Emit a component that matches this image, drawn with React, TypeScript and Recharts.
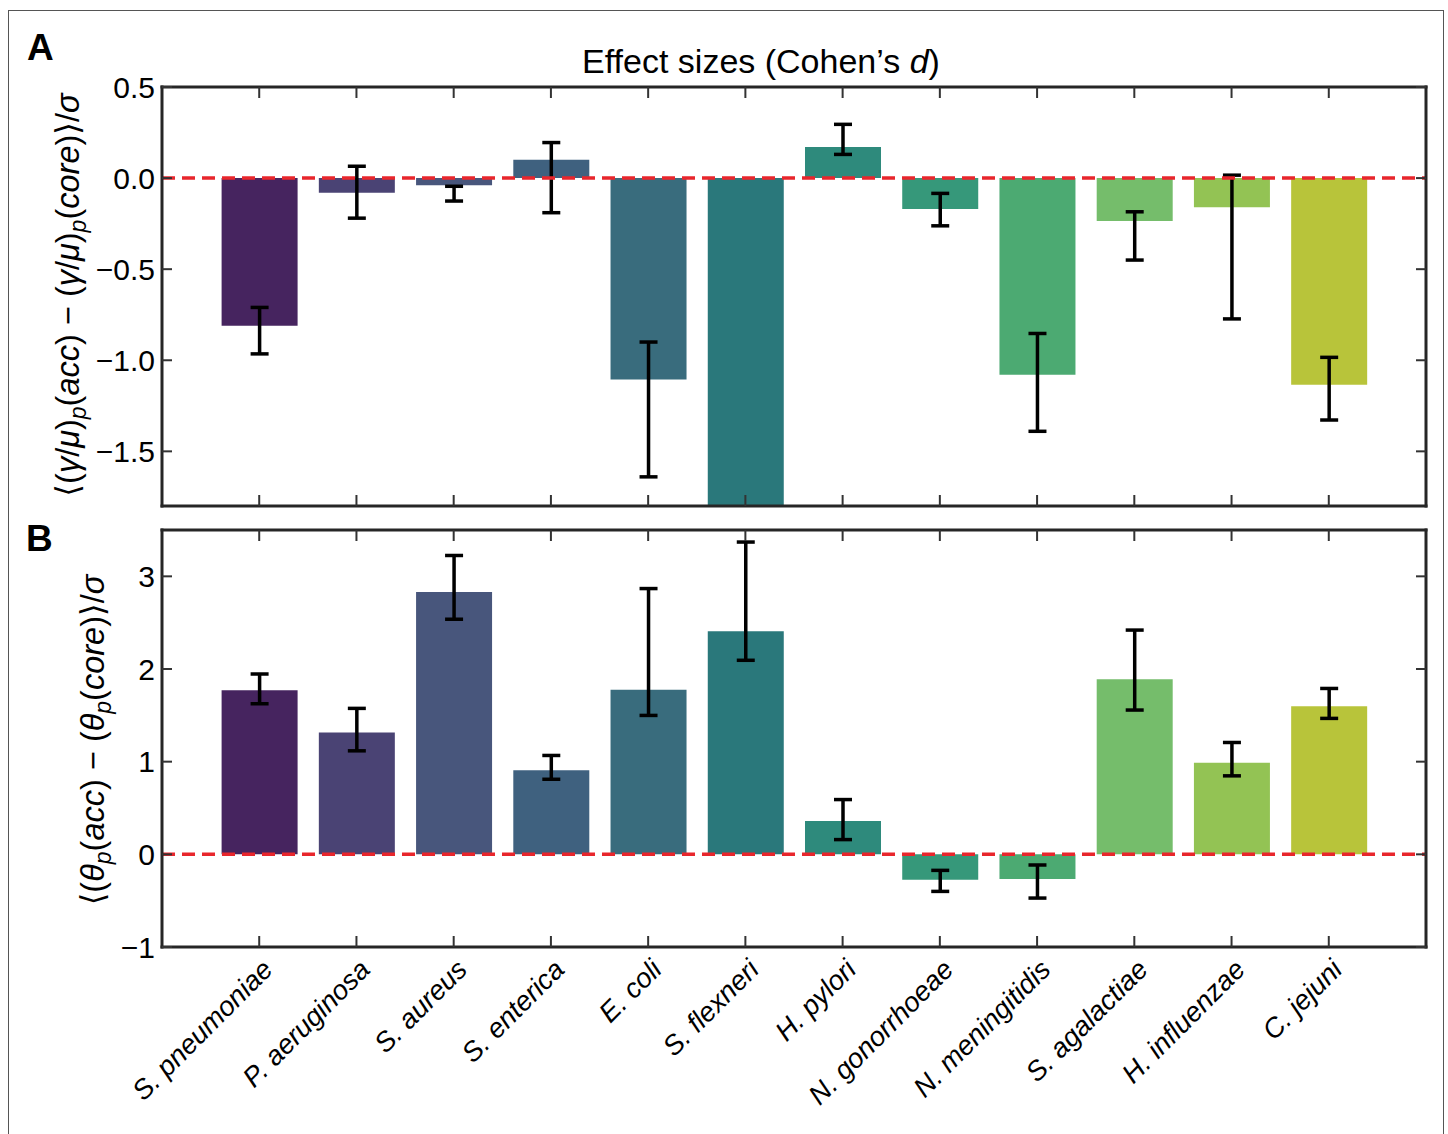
import React from "react";
import { BarChart, Bar, XAxis, YAxis, ErrorBar, ReferenceLine, Cell } from "recharts";

const species = [
  "S. pneumoniae",
  "P. aeruginosa",
  "S. aureus",
  "S. enterica",
  "E. coli",
  "S. flexneri",
  "H. pylori",
  "N. gonorrhoeae",
  "N. meningitidis",
  "S. agalactiae",
  "H. influenzae",
  "C. jejuni",
];

const colors = [
  "#46245f",
  "#4a4374",
  "#48567c",
  "#3f617f",
  "#396c7d",
  "#2a787b",
  "#2e8a7c",
  "#36987a",
  "#4caa72",
  "#75bd6b",
  "#93c354",
  "#b8c43a",
];

// Panel A: gamma/mu effect size, with lower / upper error bounds
const gammaEffect = [-0.81, -0.08, -0.04, 0.1, -1.105, -2.5, 0.17, -0.17, -1.08, -0.235, -0.16, -1.135];
const gammaLower = [-0.965, -0.22, -0.126, -0.19, -1.64, null, 0.13, -0.262, -1.39, -0.45, -0.773, -1.328];
const gammaUpper = [-0.71, 0.065, -0.045, 0.195, -0.9, null, 0.295, -0.084, -0.853, -0.185, 0.016, -0.984];

// Panel B: theta effect size, with lower / upper error bounds
const thetaEffect = [1.77, 1.316, 2.83, 0.908, 1.776, 2.407, 0.36, -0.274, -0.267, 1.889, 0.987, 1.597];
const thetaLower = [1.625, 1.117, 2.537, 0.81, 1.499, 2.094, 0.159, -0.4, -0.472, 1.557, 0.847, 1.467];
const thetaUpper = [1.946, 1.575, 3.225, 1.067, 2.868, 3.37, 0.591, -0.173, -0.115, 2.42, 1.207, 1.79];

const ticksA = [-1.5, -1, -0.5, 0, 0.5];
const ticksB = [-1, 0, 1, 2, 3];
const domainA: [number, number] = [-1.8, 0.5];
const domainB: [number, number] = [-1, 3.5];

const FONT = '"Liberation Sans", Arial, Helvetica, "DejaVu Sans", sans-serif';
const AXIS = { stroke: "#262626", strokeWidth: 3, strokeLinecap: "square" as const };
const TICK_COLOR = "#333";

function buildRows(vals: number[], lo: (number | null)[], hi: (number | null)[]) {
  return species.map((name, i) => ({
    name,
    value: vals[i],
    err: lo[i] == null || hi[i] == null ? null : [vals[i] - (lo[i] as number), (hi[i] as number) - vals[i]],
  }));
}

const rowsA = buildRows(gammaEffect, gammaLower, gammaUpper);
const rowsB = buildRows(thetaEffect, thetaLower, thetaUpper);

const minus = (s: string) => s.replace("-", "\u2212");
const fmtA = (v: number) => minus(v.toFixed(1));
const fmtB = (v: number) => minus(String(v));

function BottomTick(props: any) {
  const { x, y, payload, showLabel } = props;
  return (
    <g>
      <line x1={x} y1={y} x2={x} y2={y - 11} stroke={TICK_COLOR} strokeWidth={2} />
      {showLabel && (
        <text
          x={x}
          y={y + 9}
          dy="0.78em"
          textAnchor="end"
          transform={`rotate(-45, ${x}, ${y + 9})`}
          fontFamily={FONT}
          fontStyle="italic"
          fontSize={27.5}
          fill="#000"
        >
          {payload.value}
        </text>
      )}
    </g>
  );
}

function TopTick(props: any) {
  const { x, y } = props;
  return <line x1={x} y1={y} x2={x} y2={y + 11} stroke={TICK_COLOR} strokeWidth={2} />;
}

function LeftTick(props: any) {
  const { x, y, payload, fmt } = props;
  return (
    <g>
      <line x1={x} y1={y} x2={x + 10} y2={y} stroke={TICK_COLOR} strokeWidth={2} />
      <text x={x - 7} y={y} dy="0.36em" textAnchor="end" fontFamily={FONT} fontSize={30} fill="#000">
        {fmt(payload.value)}
      </text>
    </g>
  );
}

function RightTick(props: any) {
  const { x, y } = props;
  return <line x1={x} y1={y} x2={x - 10} y2={y} stroke={TICK_COLOR} strokeWidth={2} />;
}

function Panel(props: any) {
  const { rows, domain, ticks, fmt, height, margin, bottomHeight, showLabels } = props;
  return (
    <BarChart width={1448} height={height} data={rows} margin={margin} barSize={76}>
      <XAxis
        dataKey="name"
        xAxisId="b"
        orientation="bottom"
        height={bottomHeight}
        padding={{ left: 48.6, right: 48.6 }}
        tickSize={0}
        tickMargin={0}
        tickLine={false}
        axisLine={AXIS}
        interval={0}
        tick={(p: any) => <BottomTick {...p} showLabel={showLabels} />}
      />
      <XAxis
        dataKey="name"
        xAxisId="t"
        orientation="top"
        height={2}
        padding={{ left: 48.6, right: 48.6 }}
        tickSize={0}
        tickMargin={0}
        tickLine={false}
        axisLine={AXIS}
        interval={0}
        tick={(p: any) => <TopTick {...p} />}
      />
      <YAxis
        yAxisId="l"
        type="number"
        domain={domain}
        allowDataOverflow
        ticks={ticks}
        interval={0}
        width={60}
        tickSize={0}
        tickMargin={0}
        tickLine={false}
        axisLine={AXIS}
        tick={(p: any) => <LeftTick {...p} fmt={fmt} />}
      />
      <YAxis
        yAxisId="r"
        orientation="right"
        type="number"
        domain={domain}
        allowDataOverflow
        ticks={ticks}
        interval={0}
        width={10}
        tickSize={0}
        tickMargin={0}
        tickLine={false}
        axisLine={AXIS}
        tick={(p: any) => <RightTick {...p} />}
      />
      <Bar dataKey="value" xAxisId="b" yAxisId="l" isAnimationActive={false}>
        {rows.map((r: any, i: number) => (
          <Cell key={r.name} fill={colors[i]} />
        ))}
        <ErrorBar dataKey="err" width={9} strokeWidth={3.5} stroke="#000" direction="y" />
      </Bar>
      <ReferenceLine y={0} xAxisId="b" yAxisId="l" stroke="#e8262c" strokeWidth={3.5} strokeDasharray="13 7" />
    </BarChart>
  );
}

const it = { fontStyle: "italic" as const };

export default function App() {
  return (
    <div style={{ position: "fixed", left: 0, top: 0, width: 1448, height: 1134, overflow: "hidden", background: "#fff" }}>
      <div
        style={{
          position: "absolute",
          left: 8,
          top: 10,
          width: 1436,
          height: 1140,
          border: "1px solid #555",
          boxSizing: "border-box",
        }}
      />
      <div style={{ position: "absolute", left: 0, top: 0 }}>
        <Panel
          rows={rowsA}
          domain={domainA}
          ticks={ticksA}
          fmt={fmtA}
          height={520}
          margin={{ top: 85, right: 12, bottom: 4, left: 102 }}
          bottomHeight={10}
          showLabels={false}
        />
      </div>
      <div style={{ position: "absolute", left: 0, top: 520 }}>
        <Panel
          rows={rowsB}
          domain={domainB}
          ticks={ticksB}
          fmt={fmtB}
          height={614}
          margin={{ top: 8, right: 12, bottom: 7, left: 102 }}
          bottomHeight={180}
          showLabels={true}
        />
      </div>
      <svg
        width={1448}
        height={1134}
        style={{ position: "absolute", left: 0, top: 0, pointerEvents: "none" }}
        fontFamily={FONT}
      >
        <text x={27} y={60} fontSize={37} fontWeight="bold">A</text>
        <text x={26} y={551} fontSize={37} fontWeight="bold">B</text>
        <text x={761} y={73} fontSize={34} textAnchor="middle">
          Effect sizes (Cohen’s <tspan {...it}>d</tspan>)
        </text>
        <text transform="translate(79,295) rotate(-90)" textAnchor="middle" fontSize={32.5}>
          <tspan>⟨(</tspan>
          <tspan {...it}>γ</tspan>
          <tspan>/</tspan>
          <tspan {...it}>μ</tspan>
          <tspan>)</tspan>
          <tspan {...it} fontSize={23} dy={7}>p</tspan>
          <tspan dy={-7}>(</tspan>
          <tspan {...it}>acc</tspan>
          <tspan>) − (</tspan>
          <tspan {...it}>γ</tspan>
          <tspan>/</tspan>
          <tspan {...it}>μ</tspan>
          <tspan>)</tspan>
          <tspan {...it} fontSize={23} dy={7}>p</tspan>
          <tspan dy={-7}>(</tspan>
          <tspan {...it}>core</tspan>
          <tspan>)⟩/</tspan>
          <tspan {...it}>σ</tspan>
        </text>
        <text transform="translate(104,740) rotate(-90)" textAnchor="middle" fontSize={32.5}>
          <tspan>⟨(</tspan>
          <tspan {...it}>θ</tspan>
          <tspan {...it} fontSize={23} dy={7}>p</tspan>
          <tspan dy={-7}>(</tspan>
          <tspan {...it}>acc</tspan>
          <tspan>) − (</tspan>
          <tspan {...it}>θ</tspan>
          <tspan {...it} fontSize={23} dy={7}>p</tspan>
          <tspan dy={-7}>(</tspan>
          <tspan {...it}>core</tspan>
          <tspan>)⟩/</tspan>
          <tspan {...it}>σ</tspan>
        </text>
      </svg>
    </div>
  );
}
